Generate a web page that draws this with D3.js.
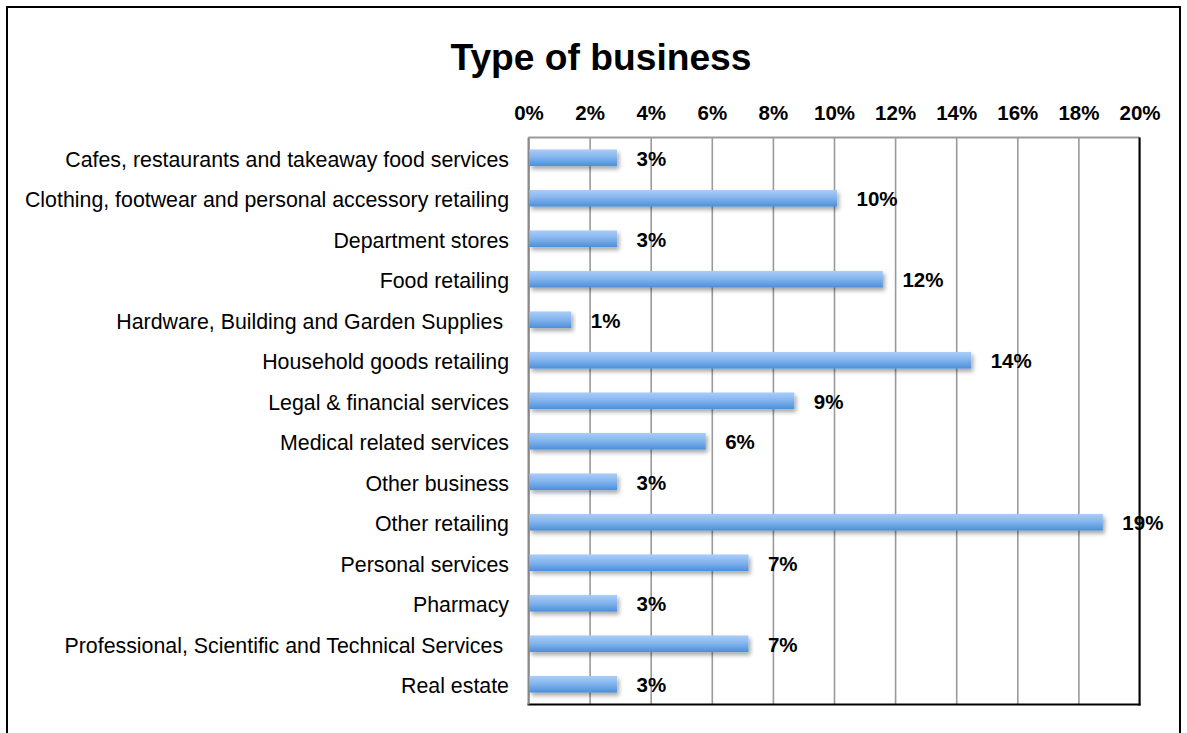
<!DOCTYPE html>
<html>
<head>
<meta charset="utf-8">
<script src="https://cdn.jsdelivr.net/npm/d3@7"></script>
<style>
  html, body { margin: 0; padding: 0; background: #fff; }
  svg text { font-family: "Liberation Sans", Arial, Helvetica, sans-serif; white-space: pre; }
</style>
</head>
<body>
<svg id="chart" width="1187" height="733"></svg>
<script>
// Business categories (top to bottom) and their share of respondents, in percent
const categories = [
  "Cafes, restaurants and takeaway food services",
  "Clothing, footwear and personal accessory retailing",
  "Department stores",
  "Food retailing",
  "Hardware, Building and Garden Supplies ",
  "Household goods retailing",
  "Legal & financial services",
  "Medical related services",
  "Other business",
  "Other retailing",
  "Personal services",
  "Pharmacy",
  "Professional, Scientific and Technical Services ",
  "Real estate"
];
const shares = [2.9, 10.1, 2.9, 11.6, 1.4, 14.49, 8.7, 5.8, 2.9, 18.8, 7.2, 2.9, 7.2, 2.9];
const tickValues = [0, 2, 4, 6, 8, 10, 12, 14, 16, 18, 20];
const chartTitle = "Type of business";

const rows = categories.map((c, i) => ({ category: c, value: shares[i] }));

const svg = d3.select("#chart");
const plot = { left: 528.5, right: 1139.5, top: 137.5, bottom: 704.5 };

const x = d3.scaleLinear().domain([0, 20]).range([plot.left, plot.right]);
const y = d3.scaleBand().domain(categories)
  .range([plot.top, plot.bottom])
  .paddingInner(0.59).paddingOuter(0.295);

const pct = v => d3.format(".0f")(v) + "%";

// Outer frame
svg.append("rect")
  .attr("x", 7).attr("y", 7).attr("width", 1173).attr("height", 740)
  .attr("fill", "#fff").attr("stroke", "#000").attr("stroke-width", 2);

// Title
svg.append("text")
  .attr("x", 601).attr("y", 70)
  .attr("text-anchor", "middle")
  .attr("font-size", 37.2).attr("font-weight", "bold")
  .attr("fill", "#000")
  .text(chartTitle);

// Defs: bar gradient and shadow
const defs = svg.append("defs");
const grad = defs.append("linearGradient")
  .attr("id", "barFill").attr("x1", 0).attr("y1", 0).attr("x2", 0).attr("y2", 1);
grad.append("stop").attr("offset", "0%").attr("stop-color", "#aacdf8");
grad.append("stop").attr("offset", "45%").attr("stop-color", "#86b6ee");
grad.append("stop").attr("offset", "100%").attr("stop-color", "#4b8fd9");

const shadow = defs.append("filter").attr("id", "barShadow")
  .attr("x", "-5%").attr("y", "-30%").attr("width", "115%").attr("height", "190%");
shadow.append("feDropShadow")
  .attr("dx", 2).attr("dy", 3).attr("stdDeviation", 2)
  .attr("flood-color", "#000").attr("flood-opacity", 0.35);

// Vertical gridlines
const grid = svg.append("g")
  .attr("transform", `translate(0,${plot.bottom})`)
  .call(d3.axisBottom(x).tickValues(tickValues).tickSize(-(plot.bottom - plot.top)).tickFormat(""));
grid.select(".domain").remove();
grid.selectAll(".tick line").attr("stroke", "#9a9a9a").attr("stroke-width", 1.6);

// Top border (gray), right and bottom borders (black)
svg.append("line")
  .attr("x1", plot.left).attr("x2", plot.right)
  .attr("y1", plot.top).attr("y2", plot.top)
  .attr("stroke", "#9a9a9a").attr("stroke-width", 2);
svg.append("line")
  .attr("x1", plot.right).attr("x2", plot.right)
  .attr("y1", plot.top).attr("y2", plot.bottom + 1)
  .attr("stroke", "#000").attr("stroke-width", 2);
svg.append("line")
  .attr("x1", plot.left - 1).attr("x2", plot.right + 1)
  .attr("y1", plot.bottom).attr("y2", plot.bottom)
  .attr("stroke", "#000").attr("stroke-width", 2);

// Top axis labels
const axisTop = svg.append("g")
  .attr("transform", `translate(0,${plot.top})`)
  .call(d3.axisTop(x).tickValues(tickValues).tickSize(0).tickPadding(18).tickFormat(pct));
axisTop.select(".domain").remove();
axisTop.selectAll("text")
  .attr("font-size", 20.5).attr("font-weight", "bold")
  .attr("font-family", "'Liberation Sans', Arial, Helvetica, sans-serif")
  .attr("fill", "#000");

// Category labels
const axisLeft = svg.append("g")
  .attr("transform", `translate(${plot.left},0)`)
  .call(d3.axisLeft(y).tickSize(0).tickPadding(19.5));
axisLeft.select(".domain").remove();
axisLeft.selectAll("text")
  .attr("font-size", 21.35)
  .attr("dy", "0.42em")
  .attr("font-family", "'Liberation Sans', Arial, Helvetica, sans-serif")
  .attr("fill", "#000");

// Left axis line
svg.append("line")
  .attr("x1", plot.left).attr("x2", plot.left)
  .attr("y1", plot.top).attr("y2", plot.bottom)
  .attr("stroke", "#8a8a8a").attr("stroke-width", 2);

// Bars
svg.append("g").selectAll("rect").data(rows).join("rect")
  .attr("x", x(0) + 1)
  .attr("y", d => y(d.category))
  .attr("width", d => x(d.value) - x(0) - 1)
  .attr("height", y.bandwidth())
  .attr("fill", "url(#barFill)")
  .attr("filter", "url(#barShadow)");

// Value labels
svg.append("g").selectAll("text").data(rows).join("text")
  .attr("x", d => x(d.value) + 19.5)
  .attr("y", d => y(d.category) + y.bandwidth() / 2)
  .attr("dy", "0.38em")
  .attr("font-size", 20.5).attr("font-weight", "bold")
  .attr("fill", "#000")
  .text(d => pct(d.value));
</script>
</body>
</html>
